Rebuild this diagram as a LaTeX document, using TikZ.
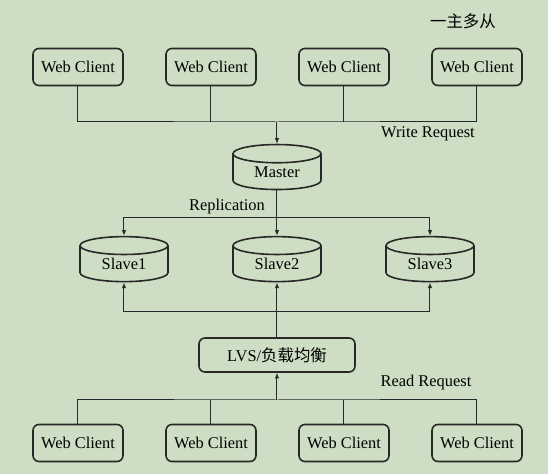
\documentclass[tikz,border=0pt]{standalone}
\usepackage{fontspec}
\setmainfont{Liberation Serif}
\newfontfamily\cjk{Noto Sans CJK SC}
\usetikzlibrary{shapes.geometric,arrows.meta}
\definecolor{bg}{RGB}{206,222,196}
\definecolor{ink}{RGB}{40,40,40}

\tikzset{
	client/.style={draw=ink, line width=0.8pt, rounded corners=3pt, minimum width=45pt, minimum height=18.5pt, inner sep=0pt},
	db/.style={draw=ink, line width=0.8pt, cylinder, shape border rotate=90, aspect=0.4, minimum width=44pt, minimum height=22.5pt, inner sep=0pt},
	link/.style={draw=ink, line width=0.5pt},
	tip/.style={link, -{Latex[length=2.8pt,width=2.2pt]}}
}

\begin{document}
\begin{tikzpicture}[x=0.5pt, y=-0.5pt, font=\fontsize{8.2}{10}\selectfont]
			\fill[bg] (0,0) rectangle (548,474);
			\useasboundingbox (0,0) rectangle (548,474);

			\node[client] (c1) at (78,67) {Web Client};
			\node[client] (c2) at (211,67) {Web Client};
			\node[client] (c3) at (344,67) {Web Client};
			\node[client] (c4) at (477,67) {Web Client};

			\node[db] (master) at (277,172) {Master};
			\node[db] (slave1) at (124,264) {Slave1};
			\node[db] (slave2) at (277,264) {Slave2};
			\node[db] (slave3) at (430,264) {Slave3};

			\node[client, minimum width=78pt, minimum height=17pt] (lvs) at (277,355) {LVS/{\cjk 负载均衡}};

			\node[client] (d1) at (78,443) {Web Client};
			\node[client] (d2) at (211,443) {Web Client};
			\node[client] (d3) at (344,443) {Web Client};
			\node[client] (d4) at (477,443) {Web Client};

			\node (title) at (463,21) {\cjk 一主多从};
			\node (write) at (428,134) {Write Request};
			\node (repl) at (227,207) {Replication};
			\node (read) at (426,383) {Read Request};

			\coordinate (wbus) at (277,122);
			\coordinate (rbus) at (277,218);
			\coordinate (sbus) at (277,312);
			\coordinate (qbus) at (277,400);

			\draw[link] (c1.south) |- (wbus) -| (c4.south);
			\draw[link] (c2.south) -- (c2.south |- wbus);
			\draw[link] (c3.south) -- (c3.south |- wbus);
			\draw[tip] (wbus) -- (master.top);

			\draw[tip] (master.bottom) -- (slave2.top);
			\draw[tip] (rbus) -| (slave1.top);
			\draw[tip] (rbus) -| (slave3.top);

			\draw[link] (lvs.north) -- (sbus);
			\draw[tip] (sbus) -- (slave2.bottom);
			\draw[tip] (sbus) -| (slave1.bottom);
			\draw[tip] (sbus) -| (slave3.bottom);

			\draw[tip] (qbus) -- (lvs.south);
			\draw[link] (d1.north) |- (qbus) -| (d4.north);
			\draw[link] (d2.north) -- (d2.north |- qbus);
			\draw[link] (d3.north) -- (d3.north |- qbus);
		\end{tikzpicture}
\end{document}
